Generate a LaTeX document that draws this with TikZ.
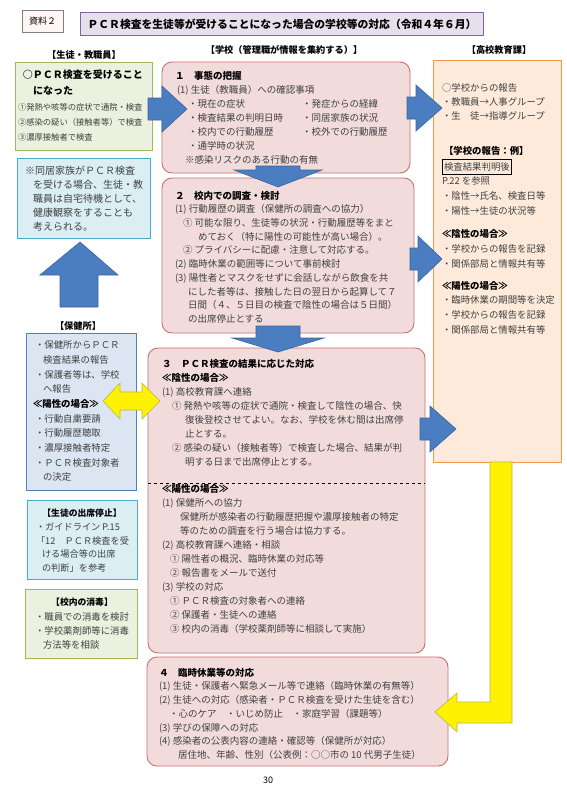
\documentclass[tikz,border=0pt]{standalone}
\usepackage{fontspec}
\setmainfont{Noto Sans CJK JP}
\usetikzlibrary{calc}
\definecolor{secfill}{RGB}{242,220,219}
\definecolor{secdraw}{RGB}{205,110,105}
\definecolor{orfill}{RGB}{253,234,218}
\definecolor{ordraw}{RGB}{247,150,70}
\definecolor{grfill}{RGB}{235,241,222}
\definecolor{grdraw}{RGB}{155,187,89}
\definecolor{aqfill}{RGB}{219,238,244}
\definecolor{aqdraw}{RGB}{75,172,198}
\definecolor{hofill}{RGB}{220,230,242}
\definecolor{hodraw}{RGB}{79,129,189}
\definecolor{arfill}{RGB}{74,126,193}
\definecolor{ardraw}{RGB}{60,100,160}
\definecolor{ttfill}{RGB}{229,224,236}
\definecolor{ttdraw}{RGB}{128,100,162}
\newcommand\hdtext[1]{{\color{black}\bfseries #1}}

\begin{document}
\begin{tikzpicture}[x=1pt, y=-1pt,
    every node/.style={inner sep=0pt, outer sep=0pt},
    sec/.style={draw=secdraw, fill=secfill, line width=0.9pt,
                rounded corners=10pt, anchor=north west},
    side/.style={line width=0.9pt, anchor=north west},
    body/.style={anchor=north west, align=left, text=black!75,
                 font=\fontsize{9.5}{14}\selectfont},
    hd/.style={font=\bfseries\fontsize{9.2}{11}\selectfont},
    barrow/.style={fill=arfill, draw=ardraw, line width=0.6pt},
    yarrow/.style={fill=yellow, draw=olive!60, line width=0.6pt},
]
\useasboundingbox (0,0) rectangle (566,800);
\fill[white] (0,0) rectangle (566,800);

% title
\node[draw=black!50, fill=red!4, line width=0.8pt, minimum width=41pt, minimum height=22pt,
      font=\fontsize{9}{11}\selectfont] (tag) at (42.5,21) {資料２};
\node[draw=ttdraw, fill=ttfill, line width=0.9pt, minimum width=403pt, minimum height=23pt,
      font=\bfseries\fontsize{10.8}{12}\selectfont] (title) at (282,24)
   {ＰＣＲ検査を生徒等が受けることになった場合の学校等の対応（令和４年６月）};

% column headers
\node[hd] (hstu) at (84,55) {【生徒・教職員】};
\node[hd] (hsch) at (284,50) {【学校（管理職が情報を集約する）】};
\node[hd] (hboe) at (499,50) {【高校教育課】};
\node[hd] (hhc)  at (78,326) {【保健所】};

% boxes
\node[sec, minimum width=248pt, minimum height=111pt] (s1) at (162,62) {};
\node[sec, minimum width=252pt, minimum height=155pt] (s2) at (162,178) {};
\node[sec, minimum width=277pt, minimum height=305pt] (s3) at (148,348) {};
\node[sec, minimum width=301pt, minimum height=109pt] (s4) at (147,657) {};
\node[side, draw=grdraw, fill=grfill, minimum width=137pt, minimum height=88pt] (pcr) at (15,62) {};
\node[side, draw=aqdraw, fill=aqfill, minimum width=133pt, minimum height=80pt] (fam) at (17,158) {};
\node[side, draw=hodraw, fill=hofill, minimum width=110pt, minimum height=157pt] (hc) at (26,333) {};
\node[side, draw=aqdraw, fill=aqfill, minimum width=110pt, minimum height=79pt] (stop) at (27,500) {};
\node[side, draw=grdraw, fill=grfill, minimum width=112pt, minimum height=69pt] (dis) at (25,589) {};
\node[side, draw=ordraw, fill=orfill, minimum width=128pt, minimum height=402pt] (boe) at (433,60) {};
\draw[dashed, line width=0.6pt] ($(s3.north west)+(0,135)$) -- ($(s3.north east)+(0,135)$);

% section texts
\node[body] (s1t) at (175,71) {\hdtext{１　事態の把握}\\
\hspace*{2pt}(1) 生徒（教職員）への確認事項\\
\hspace*{13pt}\makebox[114pt][l]{・現在の症状}・発症からの経緯\\
\hspace*{13pt}\makebox[114pt][l]{・検査結果の判明日時}・同居家族の状況\\
\hspace*{13pt}\makebox[114pt][l]{・校内での行動履歴}・校外での行動履歴\\
\hspace*{13pt}・通学時の状況\\
\hspace*{10pt}※感染リスクのある行動の有無};
\node[body, font=\fontsize{9.5}{13.7}\selectfont] (s2t) at (175,191) {\hdtext{２　校内での調査・検討}\\
(1) 行動履歴の調査（保健所の調査への協力）\\
\hspace*{8pt}① 可能な限り、生徒等の状況・行動履歴等をまと\\
\hspace*{23pt}めておく（特に陽性の可能性が高い場合）。\\
\hspace*{8pt}② プライバシーに配慮・注意して対応する。\\
(2) 臨時休業の範囲等について事前検討\\
(3) 陽性者とマスクをせずに会話しながら飲食を共\\
\hspace*{13pt}にした者等は、接触した日の翌日から起算して７\\
\hspace*{13pt}日間（４、５日目の検査で陰性の場合は５日間）\\
\hspace*{13pt}の出席停止とする};
\node[body] (s3t) at (162,359) {\hdtext{３　ＰＣＲ検査の結果に応じた対応}\\
\hdtext{≪陰性の場合≫}\\
(1) 高校教育課へ連絡\\
\hspace*{10pt}① 発熱や咳等の症状で通院・検査して陰性の場合、快\\
\hspace*{23pt}復後登校させてよい。なお、学校を休む間は出席停\\
\hspace*{23pt}止とする。\\
\hspace*{10pt}② 感染の疑い（接触者等）で検査した場合、結果が判\\
\hspace*{23pt}明する日まで出席停止とする。\\[13.5pt]
\hdtext{≪陽性の場合≫}\\
(1) 保健所への協力\\
\hspace*{18pt}保健所が感染者の行動履歴把握や濃厚接触者の特定\\
\hspace*{18pt}等のための調査を行う場合は協力する。\\
(2) 高校教育課へ連絡・相談\\
\hspace*{8pt}① 陽性者の概況、臨時休業の対応等\\
\hspace*{8pt}② 報告書をメールで送付\\
(3) 学校の対応\\
\hspace*{8pt}① ＰＣＲ検査の対象者への連絡\\
\hspace*{8pt}② 保護者・生徒への連絡\\
\hspace*{8pt}③ 校内の消毒（学校薬剤師等に相談して実施）};
\node[body, font=\fontsize{9.5}{13.7}\selectfont] (s4t) at (159,668) {\hdtext{４　臨時休業等の対応}\\
(1) 生徒・保護者へ緊急メール等で連絡（臨時休業の有無等）\\
(2) 生徒への対応（感染者・ＰＣＲ検査を受けた生徒を含む）\\
\hspace*{10pt}・心のケア　・いじめ防止　・家庭学習（課題等）\\
(3) 学びの保障への対応\\
(4) 感染者の公表内容の連絡・確認等（保健所が対応）\\
\hspace*{19pt}居住地、年齢、性別（公表例：○○市の 10 代男子生徒）};

% left column texts
\node[body, text=black, font=\bfseries\fontsize{10}{16}\selectfont] (pcrh) at (23,70)
   {○ＰＣＲ検査を受けること\\\hspace*{10pt}になった};
\node[body, font=\fontsize{8.3}{15}\selectfont] (pcrt) at (18,103)
   {①発熱や咳等の症状で通院・検査\\②感染の疑い（接触者等）で検査\\③濃厚接触者で検査};
\node[body, font=\fontsize{10}{14}\selectfont] (famt) at (25,166)
   {※同居家族がＰＣＲ検査\\
\hspace*{8pt}を受ける場合、生徒・教\\
\hspace*{8pt}職員は自宅待機として、\\
\hspace*{8pt}健康観察をすることも\\
\hspace*{8pt}考えられる。};
\node[body, font=\fontsize{9.4}{14.67}\selectfont] (hct) at (35,341)
   {・保健所からＰＣＲ\\
\hspace*{8pt}検査結果の報告\\
・保護者等は、学校\\
\hspace*{8pt}へ報告\\
\hspace*{-2pt}\hdtext{≪陽性の場合≫}\\
・行動自粛要請\\
・行動履歴聴取\\
・濃厚接触者特定\\
・ＰＣＲ検査対象者\\
\hspace*{8pt}の決定};
\node[hd, font=\bfseries\fontsize{8.8}{11}\selectfont] (stoph) at (82,513) {【生徒の出席停止】};
\node[body, font=\fontsize{9.2}{13.7}\selectfont] (stopt) at (36,523)
   {・ガイドライン P.15\\
「12　ＰＣＲ検査を受\\
\hspace*{6pt}ける場合等の出席\\
\hspace*{6pt}の判断」を参考};
\node[hd, font=\bfseries\fontsize{8.8}{11}\selectfont] (dish) at (82,602) {【校内の消毒】};
\node[body, font=\fontsize{9.4}{13.7}\selectfont] (dist) at (35,613)
   {・職員での消毒を検討\\
・学校薬剤師等に消毒\\
\hspace*{8pt}方法等を相談};

% right column texts
\node[body, font=\fontsize{9.4}{14}\selectfont] (boea) at (442,84)
   {○学校からの報告\\・教職員→人事グループ\\・生　徒→指導グループ};
\node[body, text=black, font=\bfseries\fontsize{9.4}{14}\selectfont] (boeb) at (444,146) {【学校の報告：例】};
\node[draw=black, line width=0.8pt, anchor=north west, inner xsep=2pt, minimum height=15pt,
      text=black!75, font=\fontsize{9.4}{11}\selectfont] (boec) at (442,159) {検査結果判明後};
\node[body, font=\fontsize{9.4}{15}\selectfont] (boed) at (442,177)
   {P.22 を参照\\・陰性→氏名、検査日等\\・陽性→生徒の状況等};
\node[body, font=\fontsize{9.4}{15}\selectfont] (boee) at (442,229)
   {\hdtext{≪陰性の場合≫}\\・学校からの報告を記録\\・関係部局と情報共有等};
\node[body, font=\fontsize{9.4}{14.7}\selectfont] (boef) at (442,281)
   {\hdtext{≪陽性の場合≫}\\・臨時休業の期間等を決定\\・学校からの報告を記録\\・関係部局と情報共有等};

% block arrows
\draw[barrow] (148,98) -- (162,98) -- (162,86) -- (187,109) -- (162,132) -- (162,120) -- (148,120) -- cycle;
\draw[barrow] (407,97) -- (416,97) -- (416,85) -- (442,108) -- (416,131) -- (416,119) -- (407,119) -- cycle;
\draw[barrow] (410,248) -- (418,248) -- (418,236) -- (442,259) -- (418,282) -- (418,270) -- (410,270) -- cycle;
\draw[barrow] (420,418) -- (430,418) -- (430,406) -- (456,429) -- (430,452) -- (430,440) -- (420,440) -- cycle;
\draw[barrow] (256,166) -- (300,166) -- (300,170) -- (322,170) -- (278,187) -- (234,170) -- (256,170) -- cycle;
\draw[barrow] (256,326) -- (300,326) -- (300,338) -- (324,338) -- (278,352) -- (232,338) -- (256,338) -- cycle;
\draw[barrow] (60,307) -- (60,275) -- (40,275) -- (80,242) -- (118,275) -- (98,275) -- (98,307) -- cycle;
\draw[yarrow] (103,401) -- (120,383) -- (120,392) -- (142,392) -- (142,383) -- (160,401)
   -- (142,419) -- (142,410) -- (120,410) -- (120,419) -- cycle;
\draw[yarrow] (490,462) -- (512,462) -- (512,723) -- (457,723) -- (457,732) -- (435,712)
   -- (457,693) -- (457,702) -- (490,702) -- cycle;

\node[font=\fontsize{9}{11}\selectfont] (page) at (268,780) {30};
\end{tikzpicture}
\end{document}
